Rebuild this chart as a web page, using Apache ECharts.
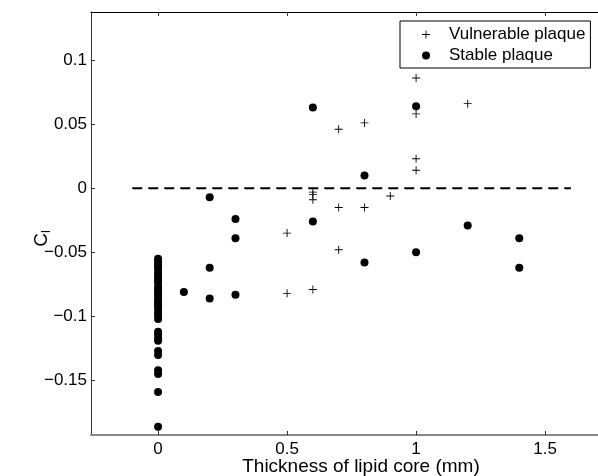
<!DOCTYPE html>
<html>
<head>
<meta charset="utf-8">
<script src="https://cdn.jsdelivr.net/npm/echarts@6/dist/echarts.min.js"></script>
<style>
html, body { margin: 0; padding: 0; background: #fff; overflow: hidden; }
#main { width: 598px; height: 476px; }
</style>
</head>
<body>
<div id="main"></div>
<script>
/**
 * 数据
 */
// 易损斑块 (+)
var vulnerableX = [1.0, 1.2, 1.0, 0.8, 0.7, 1.0, 1.0, 0.6, 0.6, 0.6, 0.9, 0.7, 0.8, 0.5, 0.7, 0.5, 0.6];
var vulnerableY = [0.086, 0.066, 0.058, 0.051, 0.046, 0.023, 0.014, -0.003, -0.005, -0.009, -0.006, -0.015, -0.015, -0.035, -0.048, -0.082, -0.079];
// 稳定斑块 (●)
var stableX = [0.6, 1.0, 0.8, 0.2, 0.3, 0.6, 1.2, 0.3, 1.4, 1.0, 0.8, 0.2, 1.4, 0.1, 0.2, 0.3,
	0, 0, 0, 0, 0, 0, 0, 0, 0, 0, 0, 0, 0, 0, 0, 0, 0, 0, 0, 0, 0, 0,
	0, 0, 0, 0, 0, 0, 0, 0, 0, 0];
var stableY = [0.063, 0.064, 0.010, -0.007, -0.024, -0.026, -0.029, -0.039, -0.039, -0.050, -0.058, -0.062, -0.062, -0.081, -0.086, -0.083,
	-0.055, -0.057, -0.059, -0.061, -0.063, -0.066, -0.068, -0.070, -0.072, -0.074, -0.077,
	-0.079, -0.081, -0.083, -0.086, -0.088, -0.090, -0.092, -0.094, -0.097, -0.099, -0.102,
	-0.112, -0.114, -0.117, -0.119, -0.127, -0.130, -0.142, -0.145, -0.159, -0.186];
// 零线（虚线）
var zeroLineX = [-0.1, 1.6];
var zeroLineY = [0, 0];
// 刻度
var xTicks = [0, 0.5, 1, 1.5];
var yTicks = [-0.15, -0.1, -0.05, 0, 0.05, 0.1];
var seriesNames = ['Vulnerable plaque', 'Stable plaque'];

function zip(xs, ys) {
	var out = [];
	for (var i = 0; i < xs.length; i++) out.push([xs[i], ys[i]]);
	return out;
}

// 负号用长的减号
function fmt(v) {
	var s = String(Math.round(v * 1000) / 1000);
	return s.replace('-', '\u2212');
}

var FONT = 'Liberation Sans';
var PLUS = 'path://M4,0h1v4h4v1h-4v4h-1v-4h-4v-1h4z';

var myChart = echarts.init(document.getElementById('main'));
var option = {
	animation : false,
	backgroundColor : '#fff',
	textStyle : { fontFamily : FONT },
	// 右边框在图外（原图被裁掉）
	grid : { left : 91, top : 12, width : 540, height : 423, outerBoundsMode : 'none', containLabel : false },
	legend : {
		data : [
			{ name : seriesNames[0], icon : PLUS },
			{ name : seriesNames[1], icon : 'circle' }
		],
		orient : 'vertical',
		left : 400,
		top : 21,
		padding : [5, 5, 4, 22],
		itemGap : 4,
		itemWidth : 8,
		itemHeight : 8,
		borderColor : '#000',
		borderWidth : 1,
		backgroundColor : '#fff',
		textStyle : { fontFamily : FONT, fontSize : 17, color : '#000', padding : [0, 0, 0, 14] }
	},
	xAxis : [ {
		type : 'value',
		min : -0.26,
		max : 1.833,
		position : 'bottom',
		name : 'Thickness of lipid core (mm)',
		nameLocation : 'middle',
		nameGap : 22,
		nameMoveOverlap : false,
		nameTextStyle : { fontFamily : FONT, fontSize : 19, color : '#000' },
		splitLine : { show : false },
		axisLine : { onZero : false, lineStyle : { color : '#888', width : 2 } },
		axisTick : { inside : true, length : 4, customValues : xTicks, lineStyle : { color : '#333' } },
		axisLabel : { customValues : xTicks, formatter : fmt, color : '#000', fontSize : 17, margin : 6 }
	}, {
		type : 'value',
		min : -0.26,
		max : 1.833,
		position : 'top',
		splitLine : { show : false },
		axisLine : { onZero : false, lineStyle : { color : '#000', width : 1 } },
		axisTick : { inside : true, length : 4, customValues : xTicks, lineStyle : { color : '#333' } },
		axisLabel : { show : false }
	} ],
	yAxis : [ {
		type : 'value',
		min : -0.1925,
		max : 0.1375,
		position : 'left',
		name : '{c|C}{s|l}',
		nameLocation : 'middle',
		nameRotate : 90,
		nameGap : 38,
		nameMoveOverlap : false,
		nameTextStyle : {
			color : '#000',
			padding : [0, 30, 0, 0],
			rich : {
				c : { fontFamily : FONT, fontSize : 19, color : '#000' },
				s : { fontFamily : FONT, fontSize : 13, color : '#000', verticalAlign : 'bottom', padding : [9, 0, 0, 0] }
			}
		},
		splitLine : { show : false },
		axisLine : { onZero : false, lineStyle : { color : '#333', width : 1 } },
		axisTick : { inside : true, length : 4, customValues : yTicks, lineStyle : { color : '#333' } },
		axisLabel : { customValues : yTicks, formatter : fmt, color : '#000', fontSize : 17, margin : 4 }
	}, {
		type : 'value',
		min : -0.1925,
		max : 0.1375,
		position : 'right',
		splitLine : { show : false },
		axisLine : { onZero : false, lineStyle : { color : '#000' } },
		axisTick : { show : false },
		axisLabel : { show : false }
	} ],
	series : [ {
		name : 'zero',
		type : 'line',
		data : zip(zeroLineX, zeroLineY),
		symbol : 'none',
		silent : true,
		lineStyle : { color : '#000', width : 2, type : [10, 6] },
		z : 1
	}, {
		name : seriesNames[0],
		type : 'scatter',
		data : zip(vulnerableX, vulnerableY),
		symbol : PLUS,
		symbolSize : 8,
		itemStyle : { color : '#000', opacity : 1 },
		z : 3
	}, {
		name : seriesNames[1],
		type : 'scatter',
		data : zip(stableX, stableY),
		symbol : 'circle',
		symbolSize : 8,
		itemStyle : { color : '#000', opacity : 1 },
		z : 2
	} ]
};
myChart.setOption(option);
</script>
</body>
</html>
